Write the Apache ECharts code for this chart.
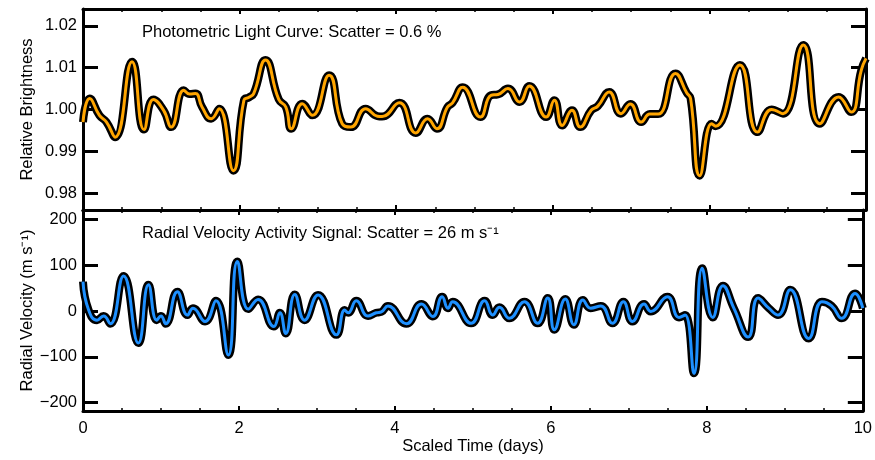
<!DOCTYPE html>
<html>
<head>
<meta charset="utf-8">
<script src="https://cdn.jsdelivr.net/npm/echarts@6/dist/echarts.min.js"></script>
<style>
  html, body { margin: 0; padding: 0; background: #fff; }
  #main { width: 875px; height: 460px; }
</style>
</head>
<body>
<div id="main"></div>
<script>
// photometric light curve (time in days, relative brightness)
var lcTime = [0.00, 0.085, 0.21, 0.30, 0.41, 0.626, 0.78, 0.90, 1.03, 1.126, 1.287, 1.36, 1.437, 1.52, 1.637, 1.74,
  1.92, 2.055, 2.12, 2.18, 2.33, 2.50, 2.59, 2.66, 2.80, 2.93, 3.143, 3.31, 3.42, 3.61, 3.76, 3.82, 4.04, 4.25, 4.40,
  4.52, 4.655, 4.72, 4.85, 5.075, 5.21, 5.30, 5.427, 5.575, 5.70, 5.915, 6.02, 6.12, 6.245, 6.35, 6.49, 6.575, 6.72,
  6.87, 6.99, 7.13, 7.24, 7.345, 7.567, 7.71, 7.76, 7.877, 8.027, 8.08, 8.39, 8.615, 8.795, 8.94, 9.2, 9.41, 9.65,
  9.81, 9.94, 10.0];
var lcFlux = [0.997, 1.0026, 0.9986, 0.997, 0.9934, 1.0114, 0.9952, 1.0024, 0.9998, 0.9958, 1.0046, 1.0037, 1.0038,
  1.0006, 0.9978, 1.0002, 0.9854, 1.0022, 1.0029, 1.0038, 1.0118, 1.0024, 1.0006, 0.9954, 1.0014, 0.9986, 1.0082,
  0.9966, 0.9958, 1.0002, 0.9984, 0.9983, 1.0016, 0.9944, 0.9978, 0.9954, 1.0006, 1.0016, 1.0053, 0.9982, 1.0034,
  1.0036, 1.0050, 1.0018, 1.0056, 0.9982, 1.0022, 0.9962, 0.9998, 0.9958, 0.9998, 1.0008, 1.0042, 0.999, 1.0013,
  0.997, 0.9989, 0.9989, 1.0086, 1.004, 1.0026, 0.9842, 0.9966, 0.996, 1.0106, 0.9946, 1.000, 0.999, 1.0154, 0.9966,
  1.003, 0.9994, 1.0094, 1.0122];

// radial velocity activity signal (time in days, m/s)
var rvTime = [0.00, 0.072, 0.18, 0.264, 0.35, 0.52, 0.71, 0.84, 0.945, 1.0, 1.06, 1.21, 1.34, 1.41, 1.565, 1.705,
  1.863, 1.98, 2.12, 2.245, 2.447, 2.525, 2.60, 2.716, 2.84, 3.014, 3.25, 3.356, 3.40, 3.505, 3.655, 3.76, 3.826,
  3.91, 4.146, 4.34, 4.486, 4.606, 4.68, 4.74, 4.977, 5.15, 5.254, 5.34, 5.467, 5.66, 5.83, 5.96, 6.044, 6.185,
  6.295, 6.41, 6.51, 6.64, 6.79, 6.93, 7.046, 7.195, 7.28, 7.494, 7.643, 7.72, 7.835, 7.94, 8.077, 8.206, 8.346,
  8.53, 8.657, 8.795, 8.913, 9.07, 9.306, 9.476, 9.6, 9.73, 9.90, 10.0];
var rvVel = [64, 2, -20, -11, -28, 76, -70, 57, -20, -11, -28, 42, -9, 6, -23, 22,
  -96, 108, 4, 25, -34, -4, -49, 36, -20, 35, -52, 2, -4, 22, -11, -4, -2,
  11, -28, 15, -12, 31, 6, 20, -27, 22, -9, 8, -16, 20, -27, 28, -41, 26,
  -30, 24, 6, 11, -27, 20, -23, 15, -1, 31, -14, -9, -136, 93, -14, 55, 6,
  -57, 28, 6, -9, 46, -60, 20, 11, -16, 38, 6];

var xTicks = [0, 2, 4, 6, 8, 10];

var FONT = '"Liberation Sans", Arial, Helvetica, sans-serif';
var chart = echarts.init(document.getElementById('main'));

function pairs(xs, ys) {
  return xs.map(function (x, i) { return [x, ys[i]]; });
}
function minus(v) {
  return v < 0 ? '\u2212' + Math.abs(v) : String(v);
}

function xAxis(gridIndex, pos, labels) {
  return {
    type: 'value', gridIndex: gridIndex, position: pos,
    min: xTicks[0], max: xTicks[xTicks.length - 1], interval: 2,
    axisLine: { show: true, onZero: false, lineStyle: { color: '#000', width: 3 } },
    axisTick: { show: true, inside: true, length: 5, lineStyle: { color: '#000', width: 2 } },
    minorTick: { show: true, splitNumber: 4, length: 3, lineStyle: { color: '#000', width: 1.5 } },
    axisLabel: { show: labels, color: '#000', fontSize: 16.5, fontFamily: FONT, margin: 9 },
    splitLine: { show: false },
    name: labels ? 'Scaled Time (days)' : '',
    nameLocation: 'middle', nameGap: 27,
    nameTextStyle: { color: '#000', fontSize: 16.5, fontFamily: FONT }
  };
}

function yAxis(gridIndex, pos, min, max, fmt, name) {
  var left = pos === 'left';
  return {
    type: 'value', gridIndex: gridIndex, position: pos,
    min: min, max: max, splitNumber: 5,
    axisLine: { show: true, onZero: false, lineStyle: { color: '#000', width: 3 } },
    axisTick: { show: true, inside: true, length: 15, lineStyle: { color: '#000', width: 3 } },
    axisLabel: { show: left, color: '#000', fontSize: 16.5, fontFamily: FONT, margin: 6,
      showMinLabel: false, showMaxLabel: false, formatter: fmt },
    splitLine: { show: false },
    name: left ? name : '',
    nameLocation: 'middle', nameGap: 47, nameMoveOverlap: false, nameRotate: 90,
    nameTextStyle: { color: '#000', fontSize: 16.5, fontFamily: FONT }
  };
}

var option = {
  animation: false,
  backgroundColor: '#fff',
  grid: [
    { left: 83, right: 9, top: 9, height: 201 },
    { left: 83, right: 9, top: 210, height: 201 }
  ],
  xAxis: [
    xAxis(0, 'bottom', false),
    xAxis(0, 'top', false),
    xAxis(1, 'bottom', true),
    xAxis(1, 'top', false)
  ],
  yAxis: [
    yAxis(0, 'left', 0.976, 1.024, function (v) { return v.toFixed(2); }, 'Relative Brightness'),
    yAxis(0, 'right', 0.976, 1.024, null, ''),
    yAxis(1, 'left', -218, 220, minus, 'Radial Velocity (m s\u207B\u00B9)'),
    yAxis(1, 'right', -218, 220, null, '')
  ],
  graphic: [
    { type: 'text', left: 142, top: 24,
      style: { text: 'Photometric Light Curve: Scatter = 0.6 %', fill: '#000', fontSize: 16.5, fontFamily: FONT } },
    { type: 'text', left: 142, top: 225,
      style: { text: 'Radial Velocity Activity Signal: Scatter = 26 m s\u207B\u00B9', fill: '#000', fontSize: 16.5, fontFamily: FONT } }
  ],
  series: [
    { type: 'line', xAxisIndex: 0, yAxisIndex: 0, data: pairs(lcTime, lcFlux), smooth: true,
      showSymbol: false, lineStyle: { color: '#000', width: 8 } },
    { type: 'line', xAxisIndex: 0, yAxisIndex: 0, data: pairs(lcTime, lcFlux), smooth: true,
      showSymbol: false, lineStyle: { color: '#FFA500', width: 3 } },
    { type: 'line', xAxisIndex: 2, yAxisIndex: 2, data: pairs(rvTime, rvVel), smooth: true,
      showSymbol: false, lineStyle: { color: '#000', width: 8 } },
    { type: 'line', xAxisIndex: 2, yAxisIndex: 2, data: pairs(rvTime, rvVel), smooth: true,
      showSymbol: false, lineStyle: { color: '#1E90FF', width: 3 } }
  ]
};

chart.setOption(option);
</script>
</body>
</html>
